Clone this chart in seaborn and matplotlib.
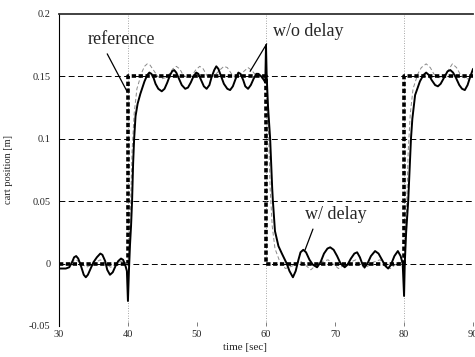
import matplotlib
matplotlib.use("Agg")
import matplotlib.pyplot as plt
import seaborn as sns
import pandas as pd

# reference step command (corner points)
ref_time = [30, 40, 40, 60, 60, 80, 80, 90]
ref_pos = [0.0, 0.0, 0.15, 0.15, 0.0, 0.0, 0.15, 0.15]
switch_times = [40, 60, 80]

# response with delay (solid)
wd_time = [30.0, 31.0, 31.5, 31.9, 32.2, 32.5, 32.8, 33.2, 33.6, 33.9, 34.2,
           34.6, 35.0, 35.5, 36.0, 36.3, 36.7, 37.0, 37.4, 37.8, 38.2, 38.6,
           39.0, 39.3, 39.6, 39.85, 40.0, 40.15, 40.3, 40.45, 40.6, 40.75,
           40.9, 41.1, 41.4, 41.8, 42.4, 42.8, 43.1, 43.4, 43.7, 44.0, 44.4,
           44.9, 45.3, 45.7, 46.1, 46.4, 46.7, 47.0, 47.4, 47.8, 48.3, 48.7,
           49.1, 49.5, 49.9, 50.2, 50.6, 51.0, 51.4, 51.8, 52.1, 52.5, 52.8,
           53.1, 53.5, 53.9, 54.4, 54.8, 55.2, 55.6, 56.0, 56.3, 56.7, 57.0,
           57.4, 57.8, 58.2, 58.6, 58.9, 59.3, 59.7, 59.9, 60.0, 60.1, 60.3,
           60.6, 60.9, 61.0, 61.3, 61.8, 62.3, 63.0, 63.4, 63.9, 64.3, 64.7,
           65.0, 65.4, 65.8, 66.3, 66.8, 67.4, 67.9, 68.4, 68.9, 69.3, 69.8,
           70.3, 70.8, 71.4, 71.8, 72.3, 72.8, 73.2, 73.6, 74.0, 74.3, 74.7,
           75.2, 75.8, 76.3, 76.8, 77.3, 77.7, 78.1, 78.6, 79.1, 79.5, 79.8,
           80.0, 80.1, 80.3, 80.6, 81.0, 81.2, 81.6, 82.3, 82.8, 83.2, 83.6,
           84.0, 84.5, 84.9, 85.3, 85.8, 86.3, 86.7, 87.1, 87.5, 88.0, 88.4,
           88.8, 89.2, 89.6, 90.0]
wd_pos = [-0.004, -0.004, -0.003, 0.001, 0.005, 0.006, 0.004, -0.002, -0.009,
          -0.011, -0.009, -0.004, 0.001, 0.005, 0.008, 0.007, 0.002, -0.005,
          -0.009, -0.007, -0.002, 0.002, 0.004, 0.003, -0.001, -0.006, -0.030,
          -0.005, 0.015, 0.030, 0.050, 0.080, 0.100, 0.118, 0.128, 0.136,
          0.146, 0.151, 0.153, 0.152, 0.149, 0.144, 0.140, 0.138, 0.140,
          0.145, 0.151, 0.154, 0.155, 0.153, 0.148, 0.143, 0.140, 0.141,
          0.145, 0.150, 0.153, 0.152, 0.147, 0.142, 0.140, 0.143, 0.149,
          0.155, 0.158, 0.156, 0.150, 0.144, 0.140, 0.139, 0.142, 0.148,
          0.153, 0.152, 0.147, 0.142, 0.140, 0.143, 0.148, 0.152, 0.152,
          0.150, 0.147, 0.145, 0.175, 0.150, 0.125, 0.100, 0.060, 0.050,
          0.026, 0.014, 0.008, 0.000, -0.006, -0.011, -0.006, 0.003, 0.009,
          0.011, 0.009, 0.003, -0.001, -0.003, 0.001, 0.008, 0.012, 0.013,
          0.011, 0.006, 0.000, -0.003, -0.001, 0.004, 0.008, 0.009, 0.005,
          -0.001, -0.003, 0.000, 0.006, 0.010, 0.008, 0.003, -0.002, -0.004,
          -0.001, 0.006, 0.010, 0.006, 0.000, -0.026, 0.000, 0.025, 0.050,
          0.100, 0.116, 0.135, 0.146, 0.151, 0.153, 0.151, 0.147, 0.143,
          0.142, 0.144, 0.149, 0.154, 0.155, 0.153, 0.149, 0.143, 0.140,
          0.139, 0.143, 0.150, 0.156]

# response without delay (thin grey dashed)
wo_time = [30.0, 31.0, 32.5, 34.0, 36.0, 37.5, 39.0, 40.0, 40.2, 40.4, 40.6,
           40.9, 41.3, 42.0, 42.4, 42.8, 43.2, 43.7, 44.3, 44.9, 45.5, 46.0,
           46.5, 47.0, 47.5, 48.0, 48.6, 49.2, 49.8, 50.4, 50.9, 51.5, 52.0,
           52.6, 53.3, 53.9, 54.4, 55.0, 55.6, 56.2, 56.8, 57.4, 57.9, 58.5,
           59.2, 60.0, 60.2, 60.4, 60.6, 60.9, 61.3, 61.9, 62.8, 63.8, 65.0,
           66.5, 67.7, 69.0, 70.5, 71.8, 73.0, 74.3, 75.5, 76.5, 78.0, 79.2,
           80.0, 80.2, 80.4, 80.6, 80.9, 81.3, 82.0, 82.5, 83.2, 83.8, 84.3,
           84.9, 85.5, 86.3, 87.0, 87.6, 88.2, 88.9, 89.5, 90.0]
wo_pos = [0.000, -0.001, 0.003, -0.003, 0.003, -0.003, 0.002, 0.000, 0.020,
          0.050, 0.090, 0.120, 0.140, 0.153, 0.158, 0.160, 0.159, 0.155,
          0.150, 0.148, 0.149, 0.152, 0.156, 0.158, 0.156, 0.151, 0.149,
          0.150, 0.155, 0.158, 0.156, 0.150, 0.149, 0.151, 0.155, 0.158,
          0.157, 0.152, 0.149, 0.150, 0.154, 0.157, 0.155, 0.151, 0.150,
          0.150, 0.130, 0.100, 0.060, 0.030, 0.012, 0.003, -0.004, -0.002,
          0.002, -0.005, 0.001, 0.003, -0.004, 0.000, 0.003, -0.004, 0.001,
          0.003, -0.004, 0.001, 0.000, 0.020, 0.050, 0.090, 0.120, 0.140,
          0.152, 0.157, 0.160, 0.157, 0.152, 0.149, 0.149, 0.154, 0.160,
          0.157, 0.151, 0.148, 0.148, 0.152]

x_ticks = [30, 40, 50, 60, 70, 80, 90]
y_ticks = [-0.05, 0, 0.05, 0.1, 0.15, 0.2]
y_tick_labels = ["-0.05", "0", "0.05", "0.1", "0.15", "0.2"]

sns.set_style("white")
plt.rcParams["font.family"] = ["Liberation Serif", "DejaVu Serif"]

ref = pd.DataFrame({"time": ref_time, "pos": ref_pos})
wd = pd.DataFrame({"time": wd_time, "pos": wd_pos})
wo = pd.DataFrame({"time": wo_time, "pos": wo_pos})

fig = plt.figure(figsize=(4.75, 3.57), dpi=100)
ax = fig.add_axes([0.124, 0.087, 0.872, 0.874])

for t in switch_times:
    ax.axvline(t, color="#888888", lw=0.6, ls=(0, (1, 2)), zorder=1)

sns.lineplot(data=wo, x="time", y="pos", ax=ax, sort=False, estimator=None,
             color="#8a8a8a", lw=0.7, zorder=3)
ax.lines[-1].set_linestyle((0, (4, 2.5)))
sns.lineplot(data=wd, x="time", y="pos", ax=ax, sort=False, estimator=None,
             color="black", lw=1.4, zorder=4)
sns.lineplot(data=ref, x="time", y="pos", ax=ax, sort=False, estimator=None,
             color="black", lw=2.6, zorder=5)
ax.lines[-1].set_linestyle((0, (1.2, 0.7)))

ax.set_xlim(30, 90)
ax.set_ylim(-0.05, 0.2)
ax.set_xticks(x_ticks)
ax.set_yticks(y_ticks)
ax.set_yticklabels(y_tick_labels)

ax.yaxis.grid(True, color="black", lw=0.7, ls=(0, (6, 3.5)))
ax.xaxis.grid(False)
for gl in ax.get_ygridlines():
    y = gl.get_ydata()[0]
    if y <= -0.05 or y >= 0.2:
        gl.set_visible(False)

ax.tick_params(axis="x", direction="in", length=3, width=0.6,
               color="#666666", labelsize=7.5, pad=3, bottom=True)
ax.tick_params(axis="y", length=0, labelsize=7.5, pad=6)

for side in ["bottom", "right"]:
    ax.spines[side].set_visible(False)
ax.spines["left"].set_color("black")
ax.spines["left"].set_linewidth(0.8)
ax.spines["top"].set_color("#333333")
ax.spines["top"].set_linewidth(1.3)

ax.set_xlabel("time [sec]", fontsize=8)
ax.set_ylabel("cart position [m]", fontsize=7.5)
ax.xaxis.set_label_coords(0.45, -0.055)
ax.yaxis.set_label_coords(-0.112, 0.5)

ax.text(39.06, 0.1796, "reference", fontsize=13, ha="center", va="center")
ax.text(66.16, 0.186, "w/o delay", fontsize=13, ha="center", va="center")
ax.text(70.07, 0.0396, "w/ delay", fontsize=13, ha="center", va="center")

arrow = dict(arrowstyle="-", color="black", lw=0.9, shrinkA=0, shrinkB=0)
ax.annotate("", xy=(39.86, 0.138), xytext=(37.0, 0.168), arrowprops=arrow)
ax.annotate("", xy=(57.7, 0.154), xytext=(60.1, 0.176), arrowprops=arrow)
ax.annotate("", xy=(65.65, 0.0108), xytext=(66.8, 0.0276), arrowprops=arrow)

fig.savefig("out.png", dpi=100)
